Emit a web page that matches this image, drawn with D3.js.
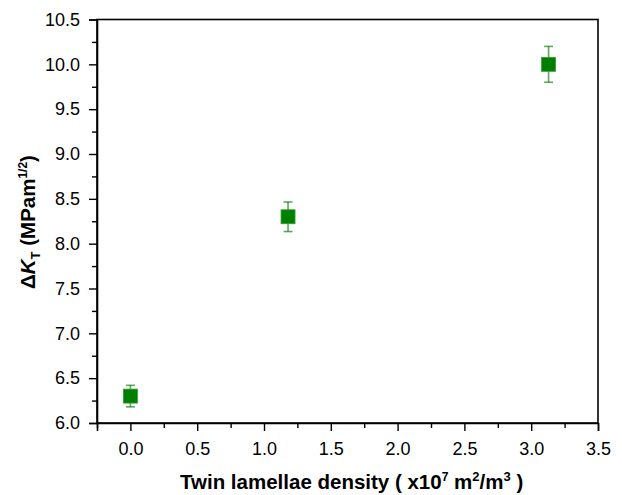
<!DOCTYPE html>
<html>
<head>
<meta charset="utf-8">
<script src="https://cdn.jsdelivr.net/npm/d3@7"></script>
<style>
  html, body { margin: 0; padding: 0; background: #fff; }
  svg { display: block; }
  text { font-family: "Liberation Sans", Arial, sans-serif; fill: #000; }
</style>
</head>
<body>
<svg id="chart" width="622" height="495"></svg>
<script>
// Twin lamellae density (x10^7 m^2/m^3) vs. ΔK_T (MPa·m^1/2)
const density = [0.0, 1.18, 3.13];
const deltaK = [6.3, 8.3, 10.0];
const deltaKErr = [0.12, 0.165, 0.2];

const xTicks = [0.0, 0.5, 1.0, 1.5, 2.0, 2.5, 3.0, 3.5];
const xMinorTicks = [-0.25, 0.25, 0.75, 1.25, 1.75, 2.25, 2.75, 3.25];
const yTicks = [6.0, 6.5, 7.0, 7.5, 8.0, 8.5, 9.0, 9.5, 10.0, 10.5];
const yMinorTicks = [6.25, 6.75, 7.25, 7.75, 8.25, 8.75, 9.25, 9.75, 10.25];

const margin = { left: 97, right: 24, top: 19.5, bottom: 72 };
const W = 622, H = 495;
const svg = d3.select("#chart");

const x = d3.scaleLinear().domain([-0.25, 3.5]).range([margin.left, W - margin.right]);
const y = d3.scaleLinear().domain([6.0, 10.5]).range([H - margin.bottom, margin.top]);

const fmt = d3.format(".1f");
const green = "#008000";

// frame
svg.append("rect")
  .attr("x", x.range()[0]).attr("y", y.range()[1])
  .attr("width", x.range()[1] - x.range()[0])
  .attr("height", y.range()[0] - y.range()[1])
  .attr("fill", "none").attr("stroke", "#000").attr("stroke-width", 1.6);

// x axis: major + minor ticks
const xAxis = svg.append("g").attr("transform", `translate(0,${y.range()[0]})`);
xAxis.call(d3.axisBottom(x).tickValues(xTicks).tickFormat(fmt).tickSize(8).tickPadding(11));
xAxis.append("g").call(d3.axisBottom(x).tickValues(xMinorTicks).tickFormat("").tickSize(5))
  .select(".domain").remove();

// y axis: major + minor ticks
const yAxis = svg.append("g").attr("transform", `translate(${x.range()[0]},0)`);
yAxis.call(d3.axisLeft(y).tickValues(yTicks).tickFormat(fmt).tickSize(8).tickPadding(9));
yAxis.append("g").call(d3.axisLeft(y).tickValues(yMinorTicks).tickFormat("").tickSize(5))
  .select(".domain").remove();

svg.selectAll(".domain").attr("stroke-width", 1.6);
svg.selectAll(".tick line").attr("stroke-width", 1.4);
svg.selectAll(".tick text")
  .style("font-family", '"Liberation Sans", Arial, sans-serif')
  .style("font-size", "18px");

// error bars
const pts = density.map((d, i) => ({ x: d, y: deltaK[i], e: deltaKErr[i] }));
const eb = svg.append("g").attr("stroke", green).attr("stroke-opacity", 0.65).attr("stroke-width", 1.6);
eb.selectAll("line.v").data(pts).join("line")
  .attr("x1", d => x(d.x)).attr("x2", d => x(d.x))
  .attr("y1", d => y(d.y + d.e)).attr("y2", d => y(d.y - d.e));
eb.selectAll("line.t").data(pts).join("line")
  .attr("x1", d => x(d.x) - 4.5).attr("x2", d => x(d.x) + 4.5)
  .attr("y1", d => y(d.y + d.e)).attr("y2", d => y(d.y + d.e));
eb.selectAll("line.b").data(pts).join("line")
  .attr("x1", d => x(d.x) - 4.5).attr("x2", d => x(d.x) + 4.5)
  .attr("y1", d => y(d.y - d.e)).attr("y2", d => y(d.y - d.e));

// square markers
const s = 14;
svg.append("g").selectAll("rect").data(pts).join("rect")
  .attr("x", d => x(d.x) - s / 2).attr("y", d => y(d.y) - s / 2)
  .attr("width", s).attr("height", s)
  .attr("fill", green)
  .attr("stroke", "#3a9a3a").attr("stroke-width", 0.8);

// x axis title
const xt = svg.append("text")
  .attr("x", 180).attr("y", 489)
  .attr("text-anchor", "start")
  .style("font-weight", "bold").style("font-size", "20.5px");
xt.append("tspan").text("Twin lamellae density ( x10");
xt.append("tspan").attr("dy", -8).style("font-size", "12px").text("7");
xt.append("tspan").attr("dy", 8).text(" m");
xt.append("tspan").attr("dy", -8).style("font-size", "13px").text("2");
xt.append("tspan").attr("dy", 8).text("/m");
xt.append("tspan").attr("dy", -8).style("font-size", "13px").text("3");
xt.append("tspan").attr("dy", 8).text(" )");

// y axis title
const yt = svg.append("text")
  .attr("transform", "translate(35,222) rotate(-90)")
  .attr("text-anchor", "middle")
  .style("font-weight", "bold").style("font-size", "20.5px");
yt.append("tspan").text("Δ");
yt.append("tspan").style("font-style", "italic").text("K");
yt.append("tspan").attr("dy", 5).style("font-size", "13px").text("T");
yt.append("tspan").attr("dy", -5).text("  (MPam");
yt.append("tspan").attr("dy", -8).style("font-size", "12px").text("1/2");
yt.append("tspan").attr("dy", 8).text(")");
</script>
</body>
</html>
